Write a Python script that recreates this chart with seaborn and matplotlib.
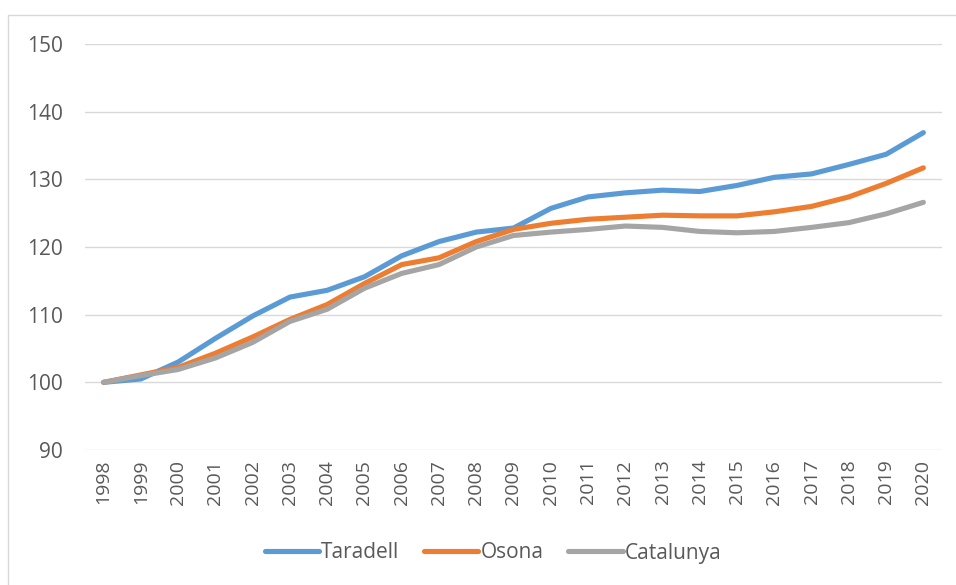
import matplotlib
matplotlib.use("Agg")
import matplotlib.pyplot as plt
import seaborn as sns
import pandas as pd
from matplotlib.lines import Line2D

years = list(range(1998, 2021))
taradell = [100.0, 100.5, 103.0, 106.5, 109.8, 112.6, 113.6, 115.6, 118.7, 120.8,
            122.2, 122.8, 125.7, 127.4, 128.0, 128.4, 128.2, 129.1, 130.3, 130.8,
            132.2, 133.7, 136.9]
osona = [100.0, 101.1, 102.2, 104.3, 106.7, 109.3, 111.5, 114.6, 117.4, 118.4,
         120.8, 122.6, 123.5, 124.1, 124.4, 124.7, 124.6, 124.6, 125.2, 126.0,
         127.4, 129.4, 131.7]
catalunya = [100.0, 101.0, 101.9, 103.6, 105.9, 109.0, 110.8, 113.9, 116.1, 117.4,
             120.0, 121.7, 122.2, 122.6, 123.1, 122.9, 122.3, 122.1, 122.3, 122.9,
             123.6, 124.9, 126.6]
series = ["Taradell", "Osona", "Catalunya"]
colors = ["#5B9BD5", "#ED7D31", "#A5A5A5"]

df = pd.DataFrame({"pos": range(len(years)), "Taradell": taradell,
                   "Osona": osona, "Catalunya": catalunya})
long = df.melt(id_vars="pos", var_name="serie", value_name="valor")

sns.set_style("white")
plt.rcParams['font.family'] = ['Open Sans', 'DejaVu Sans']

fig = plt.figure(figsize=(9.56, 5.85), dpi=100)
ax = fig.add_axes([85 / 956, 1 - 450 / 585, 857 / 956, 406 / 585])

sns.lineplot(data=long, x="pos", y="valor", hue="serie", hue_order=series,
             palette=colors, linewidth=3.7, ax=ax, legend=False,
             solid_capstyle="round")

ax.set_xlim(-0.5, len(years) - 0.5)
ax.set_ylim(90, 150)
ax.set_yticks(range(90, 151, 10))
ax.set_xticks(range(len(years)))
ax.set_xticklabels([str(y) for y in years], rotation=90)
ax.tick_params(axis="x", labelsize=14, colors="#595959", length=0, pad=7)
ax.tick_params(axis="y", labelsize=15, colors="#595959", length=0, pad=16)
ax.grid(axis="y", color="#D9D9D9", linewidth=1)
ax.set_axisbelow(True)
for s in ax.spines.values():
    s.set_visible(False)
ax.set_xlabel("")
ax.set_ylabel("")

handles = [Line2D([0], [0], color=c, linewidth=3.7, solid_capstyle="round")
           for c in colors]
fig.legend(handles, series, loc="center", bbox_to_anchor=(493 / 956, 1 - 553 / 585),
           ncol=3, frameon=False, fontsize=15, handlelength=2.6,
           handletextpad=0.1, columnspacing=1.2, labelcolor="#595959")

# marc del gràfic
fig.add_artist(Line2D([8 / 956, 1], [1 - 15 / 585, 1 - 15 / 585],
                      transform=fig.transFigure, color="#D9D9D9", linewidth=1))
fig.add_artist(Line2D([8 / 956, 8 / 956], [0, 1 - 15 / 585],
                      transform=fig.transFigure, color="#D9D9D9", linewidth=1))

fig.savefig("out.png", dpi=100)
